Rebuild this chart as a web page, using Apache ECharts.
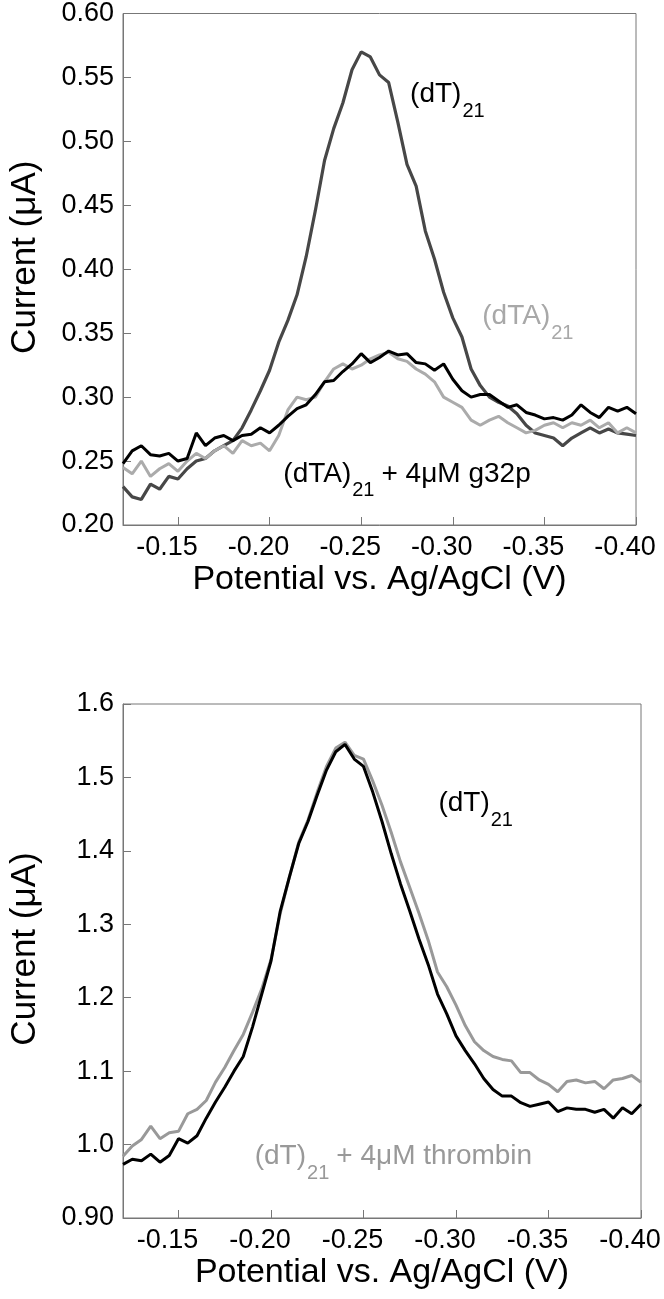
<!DOCTYPE html>
<html>
<head>
<meta charset="utf-8">
<script src="https://cdn.jsdelivr.net/npm/echarts@6/dist/echarts.min.js"></script>
<style>
html,body{margin:0;padding:0;background:#fff;}
#c{width:664px;height:1299px;}
</style>
</head>
<body>
<div id="c"></div>
<script>
// Potential (V) sample positions
const potential = [-0.120,-0.125,-0.130,-0.135,-0.140,-0.145,-0.150,-0.155,-0.160,-0.165,-0.170,-0.175,-0.180,-0.185,-0.190,-0.195,-0.200,-0.205,-0.210,-0.215,-0.220,-0.225,-0.230,-0.235,-0.240,-0.245,-0.250,-0.255,-0.260,-0.265,-0.270,-0.275,-0.280,-0.285,-0.290,-0.295,-0.300,-0.305,-0.310,-0.315,-0.320,-0.325,-0.330,-0.335,-0.340,-0.345,-0.350,-0.355,-0.360,-0.365,-0.370,-0.375,-0.380,-0.385,-0.390,-0.395,-0.400];

// Top panel currents (uA)
const topDT21 = [0.230,0.222,0.220,0.232,0.228,0.238,0.236,0.244,0.250,0.252,0.258,0.262,0.266,0.276,0.290,0.305,0.321,0.343,0.360,0.380,0.410,0.446,0.485,0.510,0.530,0.556,0.570,0.566,0.552,0.546,0.515,0.482,0.465,0.430,0.408,0.382,0.362,0.347,0.322,0.309,0.300,0.296,0.293,0.287,0.278,0.272,0.270,0.268,0.262,0.268,0.272,0.276,0.272,0.275,0.272,0.271,0.270];
const topDTA21 = [0.245,0.240,0.250,0.238,0.244,0.248,0.242,0.250,0.256,0.252,0.258,0.262,0.256,0.266,0.262,0.264,0.258,0.270,0.290,0.300,0.298,0.300,0.312,0.322,0.326,0.322,0.325,0.330,0.333,0.335,0.330,0.328,0.322,0.318,0.312,0.300,0.296,0.292,0.282,0.278,0.282,0.285,0.280,0.276,0.272,0.274,0.278,0.280,0.276,0.280,0.278,0.282,0.276,0.280,0.272,0.276,0.272];
const topDTA21G32p = [0.248,0.258,0.262,0.255,0.254,0.256,0.250,0.252,0.272,0.262,0.268,0.270,0.266,0.270,0.271,0.276,0.272,0.278,0.285,0.291,0.294,0.302,0.312,0.313,0.320,0.326,0.334,0.327,0.331,0.336,0.333,0.334,0.327,0.326,0.321,0.326,0.314,0.305,0.300,0.302,0.302,0.297,0.292,0.294,0.288,0.286,0.283,0.284,0.282,0.286,0.294,0.288,0.284,0.292,0.289,0.292,0.287];

// Bottom panel currents (uA)
const botDT21 = [0.973,0.980,0.978,0.987,0.976,0.985,1.008,1.002,1.012,1.036,1.058,1.078,1.100,1.120,1.160,1.205,1.250,1.318,1.365,1.410,1.440,1.476,1.510,1.535,1.545,1.525,1.515,1.480,1.440,1.396,1.355,1.318,1.280,1.245,1.205,1.178,1.148,1.128,1.110,1.090,1.075,1.066,1.066,1.057,1.052,1.055,1.058,1.045,1.050,1.048,1.048,1.044,1.048,1.036,1.050,1.042,1.055];
const botDT21Thrombin = [0.984,0.998,1.007,1.025,1.008,1.016,1.018,1.042,1.048,1.060,1.085,1.105,1.128,1.150,1.180,1.212,1.252,1.315,1.365,1.412,1.442,1.480,1.515,1.540,1.548,1.530,1.525,1.495,1.462,1.425,1.385,1.350,1.315,1.278,1.235,1.215,1.190,1.162,1.140,1.128,1.120,1.116,1.114,1.098,1.098,1.088,1.082,1.072,1.086,1.088,1.084,1.086,1.076,1.088,1.090,1.094,1.085];

// Axis ranges / ticks
const xRange = [-0.40, -0.12];
const xInterval = 0.05;
const topYRange = [0.20, 0.60];
const topYInterval = 0.05;
const botYRange = [0.90, 1.60];
const botYInterval = 0.1;

const xTitle = 'Potential vs. Ag/AgCl (V)';
const yTitle = 'Current (\u03bcA)';

// Annotations (anchored in data coordinates)
const annotations = [
  {grid:0, x:-0.2767, y:0.537, main:'(dT)', sub:'21', rest:'', color:'#000'},
  {grid:0, x:-0.3161, y:0.363, main:'(dTA)', sub:'21', rest:'', color:'#a8a8a8'},
  {grid:0, x:-0.2075, y:0.240, main:'(dTA)', sub:'21', rest:'+ 4\u03bcM g32p', color:'#000'},
  {grid:1, x:-0.2905, y:1.465, main:'(dT)', sub:'21', rest:'', color:'#000'},
  {grid:1, x:-0.1912, y:0.984, main:'(dT)', sub:'21', rest:'+ 4\u03bcM thrombin', color:'#999'}
];

const FONT = '"Liberation Sans", Arial, Helvetica, sans-serif';
const AX = '#777';

function pairs(ys){ return potential.map((x,i)=>[x, ys[i]]); }

function xAxisCfg(g){
  return {
    gridIndex:g, type:'value', min:xRange[0], max:xRange[1], interval:xInterval, inverse:true,
    axisLine:{show:true, onZero:false, lineStyle:{color:AX, width:1}},
    axisTick:{show:true, inside:true, length:8, lineStyle:{color:AX}},
    splitLine:{show:false},
    axisLabel:{color:'#000', fontFamily:FONT, fontSize:27, margin:9, padding:[0,22,0,0],
      formatter:function(v){ return v > -0.13 ? '' : v.toFixed(2); }},
    name:xTitle, nameLocation:'middle', nameGap:38,
    nameTextStyle:{color:'#000', fontFamily:FONT, fontSize:34}
  };
}
function yAxisCfg(g, range, interval, fmt){
  return {
    gridIndex:g, type:'value', min:range[0], max:range[1], interval:interval,
    axisLine:{show:true, onZero:false, lineStyle:{color:AX, width:1}},
    axisTick:{show:true, inside:true, length:8, lineStyle:{color:AX}},
    splitLine:{show:false},
    axisLabel:{color:'#000', fontFamily:FONT, fontSize:27, margin:9, formatter:fmt},
    name:yTitle, nameLocation:'middle', nameGap:80,
    nameTextStyle:{color:'#000', fontFamily:FONT, fontSize:35, padding:[0,0,0,24]}
  };
}

const chart = echarts.init(document.getElementById('c'), null, {renderer:'canvas'});
function lineSeries(name, g, ys, color, width){
  return {name:name, type:'line', xAxisIndex:g, yAxisIndex:g, data:pairs(ys), showSymbol:false,
    symbol:'none', lineStyle:{color:color, width:width}, itemStyle:{color:color}, z:2};
}
chart.setOption({
  animation:false,
  backgroundColor:'#fff',
  grid:[
    {left:111, right:28, top:11, height:514, show:true, borderColor:AX, borderWidth:1, backgroundColor:'transparent'},
    {left:117, right:23, top:704, height:514, show:true, borderColor:AX, borderWidth:1, backgroundColor:'transparent'}
  ],
  xAxis:[xAxisCfg(0), xAxisCfg(1)],
  yAxis:[
    yAxisCfg(0, topYRange, topYInterval, function(v){ return v.toFixed(2); }),
    yAxisCfg(1, botYRange, botYInterval, function(v){ return Math.abs(v-0.9)<1e-6 ? '0.90' : v.toFixed(1); })
  ],
  series:[
    lineSeries('(dT)21', 0, topDT21, '#474747', 3.2),
    lineSeries('(dTA)21', 0, topDTA21, '#ababab', 3),
    lineSeries('(dTA)21 + 4\u03bcM g32p', 0, topDTA21G32p, '#000', 3),
    lineSeries('(dT)21 + 4\u03bcM thrombin', 1, botDT21Thrombin, '#999', 3),
    lineSeries('(dT)21', 1, botDT21, '#000', 3)
  ]
});

// place annotation texts
const ctx = document.createElement('canvas').getContext('2d');
function tw(t, size){ ctx.font = size + 'px ' + FONT; return ctx.measureText(t).width; }
const gfx = [];
annotations.forEach(function(a){
  const p = chart.convertToPixel({xAxisIndex:a.grid, yAxisIndex:a.grid}, [a.x, a.y]);
  const mainSize = 28, subSize = 20;
  gfx.push({type:'text', x:p[0], y:p[1], style:{text:a.main, fill:a.color, font:mainSize+'px '+FONT, textAlign:'left', textVerticalAlign:'middle'}});
  const sx = p[0] + tw(a.main, mainSize) + 1;
  gfx.push({type:'text', x:sx, y:p[1]+17, style:{text:a.sub, fill:a.color, font:subSize+'px '+FONT, textAlign:'left', textVerticalAlign:'middle'}});
  if (a.rest){
    const rx = sx + tw(a.sub, subSize) + 7;
    gfx.push({type:'text', x:rx, y:p[1], style:{text:a.rest, fill:a.color, font:mainSize+'px '+FONT, textAlign:'left', textVerticalAlign:'middle'}});
  }
});
chart.setOption({graphic:gfx});
</script>
</body>
</html>
